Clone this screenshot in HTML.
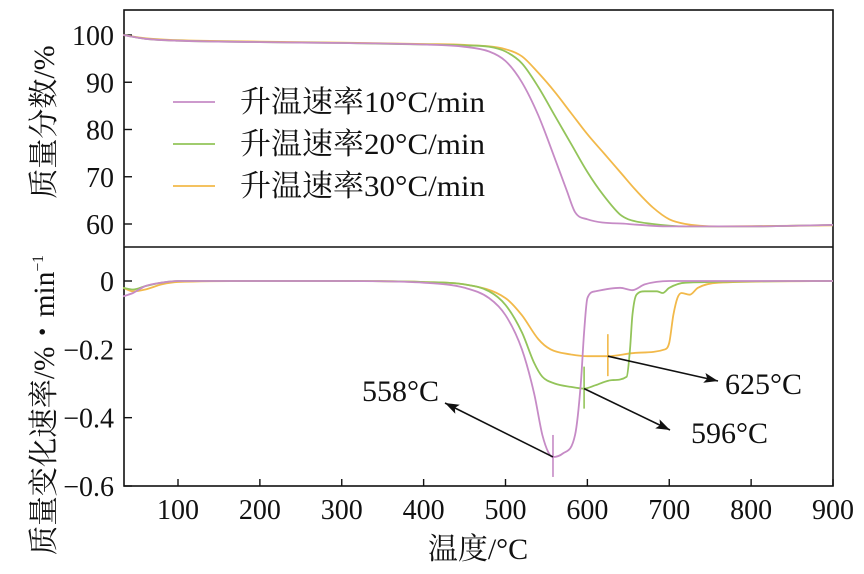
<!DOCTYPE html>
<html><head><meta charset="utf-8"><style>
body{margin:0;background:#fff}
svg text{font-family:"Liberation Serif","Noto Serif CJK SC","Noto Sans CJK SC",serif;fill:#111}
</style></head><body>
<svg id="chart" width="864" height="569" viewBox="0 0 864 569" xmlns="http://www.w3.org/2000/svg"></svg>
<script>
const xTicks=[100,200,300,400,500,600,700,800,900];
const topTicks=[60,70,80,90,100];
const botTicks=[0,-0.2,-0.4,-0.6];
const botTickLabels=["0","−0.2","−0.4","−0.6"];
const seriesNames=["升温速率10°C/min","升温速率20°C/min","升温速率30°C/min"];
const seriesColors=["#c68bc6","#93c45a","#f2b94a"];
const tgaT10=[33,60,100,200,300,400,450,480,500,520,540,560,575,585,600,650,700,800,900];
const tgaV10=[100,99.2,98.8,98.5,98.3,98,97.5,96.5,94.5,90,83,74,67,62.5,61,60,59.5,59.5,59.8];
const tgaT20=[33,60,100,200,300,400,450,480,500,520,540,560,580,600,620,640,650,680,720,800,900];
const tgaV20=[100,99.2,98.8,98.5,98.3,98,97.8,97.5,96.5,94,89,83,77,71,66,62,61,60,59.5,59.5,59.8];
const tgaT30=[33,60,100,200,300,400,450,500,520,540,560,580,600,620,640,660,680,700,720,760,900];
const tgaV30=[100,99.3,98.9,98.6,98.4,98.1,97.9,97,95.5,92,88,83.5,79,75,71,67,63.5,61,60,59.5,59.7];
const dtgT10=[33,45,60,80,100,200,300,400,450,480,500,520,535,545,552,558,570,585,592,596,600,610,640,655,670,700,900];
const dtgV10=[-0.045,-0.035,-0.015,-0.005,0,0,0,-0.005,-0.02,-0.05,-0.1,-0.2,-0.33,-0.45,-0.5,-0.515,-0.505,-0.45,-0.3,-0.15,-0.05,-0.03,-0.02,-0.027,-0.01,0,0];
const dtgT20=[33,45,60,80,100,200,300,400,450,480,500,520,535,545,560,580,596,610,630,648,652,655,660,670,685,692,700,720,900];
const dtgV20=[-0.02,-0.025,-0.015,-0.005,0,0,0,-0.003,-0.01,-0.03,-0.07,-0.15,-0.24,-0.28,-0.3,-0.31,-0.315,-0.305,-0.29,-0.28,-0.2,-0.1,-0.04,-0.03,-0.03,-0.035,-0.02,-0.005,0];
const dtgT30=[33,45,60,80,100,200,300,400,450,500,520,540,555,580,600,625,660,695,700,705,710,715,725,735,760,900];
const dtgV30=[-0.02,-0.03,-0.025,-0.01,-0.003,0,0,-0.003,-0.01,-0.05,-0.1,-0.17,-0.2,-0.215,-0.22,-0.22,-0.21,-0.2,-0.18,-0.1,-0.05,-0.035,-0.04,-0.02,-0.005,0];
const peakT=[558,596,625];
const peakV=[-0.515,-0.315,-0.22];

const L=124,R=833,T=10,MID=247,B=486;
const x=t=>178+(t-100)*(833-178)/800;
const yTop=v=>35+(100-v)*(224-35)/40;
const yBot=v=>281+v*(486-281)/-0.6*-1*-1;
const svg=document.getElementById('chart');
const NS='http://www.w3.org/2000/svg';
function mk(tag,attrs,parent){const e=document.createElementNS(NS,tag);for(const k in attrs)e.setAttribute(k,attrs[k]);(parent||svg).appendChild(e);return e;}

const frame=mk('rect',{x:L,y:T,width:R-L,height:B-T,fill:'none',stroke:'#111','stroke-width':1.6});


const div=mk('line',{x1:L,x2:R,y1:MID,y2:MID,stroke:'#111','stroke-width':1.6});



const FS=28,FL=30;
xTicks.forEach(t=>{
  const tk=mk('line',{x1:x(t),x2:x(t),y1:B,y2:B-7,stroke:'#111','stroke-width':1.4});
  
  
  const lb=mk('text',{x:x(t),y:B+33,'text-anchor':'middle','font-size':FS});
  lb.textContent=t;
  
  
});
topTicks.forEach(v=>{
  const tk=mk('line',{x1:L,x2:L+8,y1:yTop(v),y2:yTop(v),stroke:'#111','stroke-width':1.4});
  
  
  const lb=mk('text',{x:L-10,y:yTop(v)+10,'text-anchor':'end','font-size':FS});
  lb.textContent=v;
  
  
});
botTicks.forEach((v,i)=>{
  const tk=mk('line',{x1:L,x2:L+8,y1:yBot(v),y2:yBot(v),stroke:'#111','stroke-width':1.4});
  
  
  const lb=mk('text',{x:L-10,y:yBot(v)+10,'text-anchor':'end','font-size':FS});
  lb.textContent=botTickLabels[i];
  
  
});

function smoothPath(P){
  const n=P.length,d=[],m=[];
  for(let i=0;i<n-1;i++)d.push((P[i+1][1]-P[i][1])/(P[i+1][0]-P[i][0]));
  m[0]=d[0];m[n-1]=d[n-2];
  for(let i=1;i<n-1;i++)m[i]=(d[i-1]*d[i]<=0)?0:(d[i-1]+d[i])/2;
  for(let i=0;i<n-1;i++){if(d[i]===0){m[i]=0;m[i+1]=0;continue;}
    const a=m[i]/d[i],b=m[i+1]/d[i],s=a*a+b*b;if(s>9){const t=3/Math.sqrt(s);m[i]=t*a*d[i];m[i+1]=t*b*d[i];}}
  let s='M'+P[0][0].toFixed(1)+','+P[0][1].toFixed(1);
  for(let i=0;i<n-1;i++){const h=(P[i+1][0]-P[i][0])/3;
    s+=' C'+(P[i][0]+h).toFixed(1)+','+(P[i][1]+m[i]*h).toFixed(1)+' '+(P[i+1][0]-h).toFixed(1)+','+(P[i+1][1]-m[i+1]*h).toFixed(1)+' '+P[i+1][0].toFixed(1)+','+P[i+1][1].toFixed(1);}
  return s;
}
function line(ts,vs,yf,color,name){
  const P=ts.map((t,i)=>[x(t),yf(vs[i])]);
  const p=mk('path',{d:smoothPath(P),fill:'none',stroke:color,'stroke-width':1.8,'stroke-linejoin':'round'});
  
  
}
line(tgaT30,tgaV30,yTop,seriesColors[2],'tga-line-30');
line(tgaT20,tgaV20,yTop,seriesColors[1],'tga-line-20');
line(tgaT10,tgaV10,yTop,seriesColors[0],'tga-line-10');
line(dtgT30,dtgV30,yBot,seriesColors[2],'dtg-line-30');
line(dtgT20,dtgV20,yBot,seriesColors[1],'dtg-line-20');
line(dtgT10,dtgV10,yBot,seriesColors[0],'dtg-line-10');

seriesNames.forEach((n,i)=>{
  const yy=102+i*42;
  const l=mk('line',{x1:173,x2:215,y1:yy,y2:yy,stroke:seriesColors[i],'stroke-width':1.8});
  
  
  const t=mk('text',{x:240,y:yy+10,'font-size':FL,textLength:245,lengthAdjust:'spacingAndGlyphs'});
  t.textContent=n;
  
  
});

const labelPos=[[445,403,362,401],[670,430,691,443],[718,381,725,394]];
peakT.forEach((t,i)=>{
  const px=x(t),py=yBot(peakV[i]);
  const m=mk('line',{x1:px,x2:px,y1:py-22,y2:py+20,stroke:seriesColors[i],'stroke-width':1.6});
  
  
  const [ax,ay,lx,ly]=labelPos[i];
  const a=mk('line',{x1:px,y1:py,x2:ax,y2:ay,stroke:'#111','stroke-width':1.6});
  
  
  const ang=Math.atan2(ay-py,ax-px);
  const h=14,w=5;
  const bx=ax-h*Math.cos(ang),by=ay-h*Math.sin(ang);
  const pts=[[ax,ay],[bx-w*Math.sin(ang),by+w*Math.cos(ang)],[bx+3*Math.cos(ang),by+3*Math.sin(ang)],[bx+w*Math.sin(ang),by-w*Math.cos(ang)]];
  const hd=mk('polygon',{points:pts.map(p=>p.join(',')).join(' '),fill:'#111'});
  
  
  const lb=mk('text',{x:lx,y:ly,'font-size':FL});
  lb.textContent=t+'°C';
  
  
});

const xl=mk('text',{x:478,y:559,'text-anchor':'middle','font-size':FL});
xl.textContent='温度/°C';



const yl1=mk('text',{x:0,y:0,'text-anchor':'middle','font-size':FL,transform:'translate(54,122) rotate(-90)'});
yl1.textContent='质量分数/%';



const yl2=mk('text',{x:0,y:0,'font-size':FL,transform:'translate(54,555) rotate(-90)',textLength:300,lengthAdjust:'spacingAndGlyphs'});


const s1=mk('tspan',{},yl2);s1.textContent='质量变化速率/%・min';
const s2=mk('tspan',{dy:-11,'font-size':16},yl2);s2.textContent='−1';
</script>
</body></html>
